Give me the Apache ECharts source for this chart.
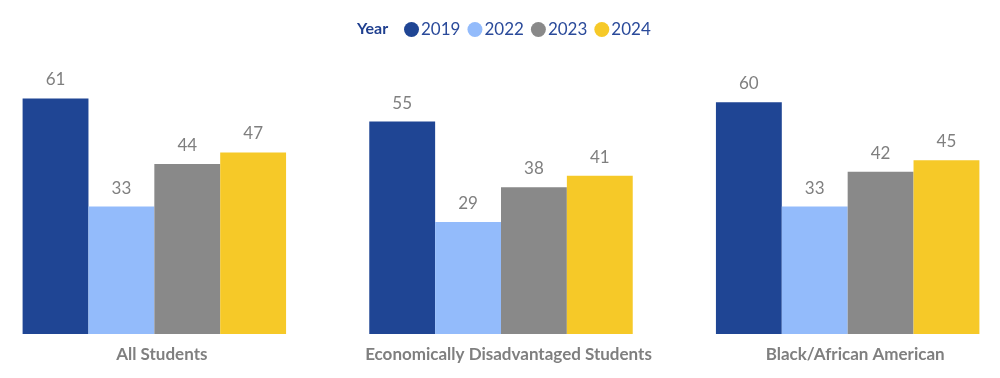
<!DOCTYPE html>
<html><head><meta charset="utf-8">
<script src="https://cdn.jsdelivr.net/npm/echarts@6/dist/echarts.min.js"></script>
<style>html,body{margin:0;padding:0;background:#fff;overflow:hidden}#c{width:1040px;height:378px;margin-left:-19px}</style>
</head><body><div id="c"></div>
<script>
const categories = ['All Students', 'Economically Disadvantaged Students', 'Black/African American'];
const years = ['2019', '2022', '2023', '2024'];
const v2019 = [61, 55, 60];
const v2022 = [33, 29, 33];
const v2023 = [44, 38, 42];
const v2024 = [47, 41, 45];
const colors = ['#1f4594', '#93bbfb', '#898989', '#f6c928'];
const seriesData = [v2019, v2022, v2023, v2024];

const chart = echarts.init(document.getElementById('c'));
chart.setOption({
  animation: false,
  textStyle: { fontFamily: 'Lato' },
  title: { text: 'Year', left: 371, top: 16, textStyle: { fontFamily: 'Lato', fontSize: 16, fontWeight: 'bold', color: '#1f3f8f' } },
  legend: {
    left: 418, top: 16, icon: 'circle', itemWidth: 15, itemHeight: 15, itemGap: 7,
    textStyle: { fontFamily: 'Lato', fontSize: 17, color: '#2a4a9a', padding: [0, 0, 0, -3] },
    data: years
  },
  grid: { left: 0, right: 0, top: 83, bottom: 44 },
  xAxis: {
    type: 'category', data: categories,
    axisLine: { show: false }, axisTick: { show: false },
    axisLabel: { interval: 0, fontFamily: 'Lato', fontSize: 17, fontWeight: 'bold', color: '#7f7f7f', margin: 12, padding: [0, 0, 0, 15] }
  },
  yAxis: { type: 'value', min: 0, max: 65, show: false, splitLine: { show: false } },
  series: years.map((y, i) => ({
    name: y, type: 'bar', data: seriesData[i],
    barGap: '0%', barCategoryGap: '24%',
    itemStyle: { color: colors[i] },
    label: { show: true, position: 'top', distance: 10, fontFamily: 'Lato', fontSize: 17, color: '#7f7f7f' }
  }))
});
</script></body></html>
